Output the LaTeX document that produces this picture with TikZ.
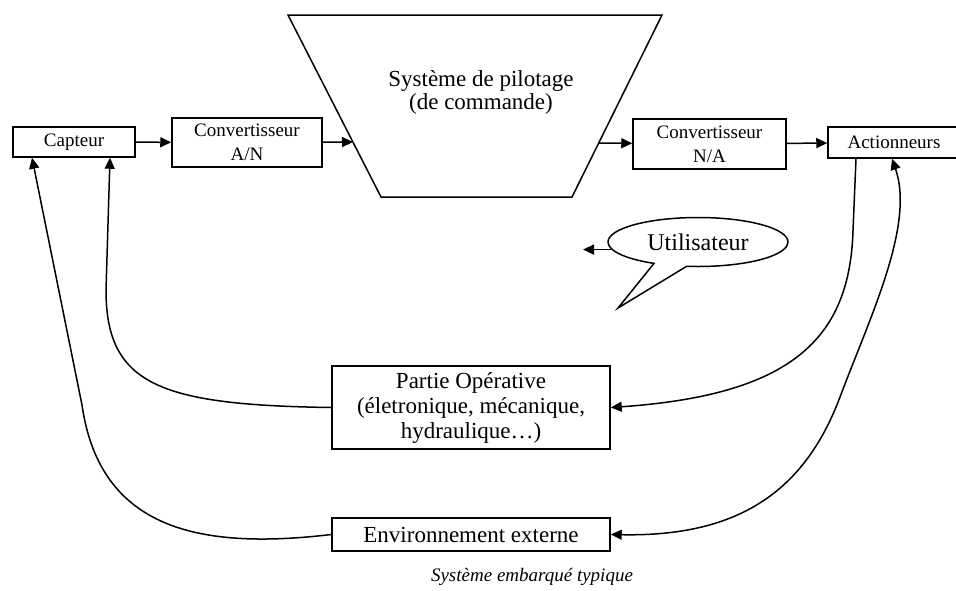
\documentclass[tikz,border=0pt]{standalone}
\usepackage{fontspec}
\setmainfont{Liberation Serif}
\usetikzlibrary{positioning, arrows.meta, shapes.callouts}

\begin{document}
\begin{tikzpicture}[x=0.5pt, y=-0.5pt, line width=0.75pt]
        \tikzset{
            >={Triangle[length=5.5pt, width=5pt]}, % small filled arrow heads
            block/.style={draw, align=center, inner sep=2pt, font=\fontsize{11.5}{12.5}\selectfont}, % big boxes
            small block/.style={block, font=\fontsize{9.5}{12}\selectfont}, % boxes of the top chain
            }
        \useasboundingbox (0,0) rectangle (956,590);

        % top chain
        \node[small block, minimum width=61pt, minimum height=15pt] (capteur_block) at (74,142) {Capteur};
        \node[small block, minimum width=75pt, minimum height=24.5pt] (conv_an_block) at (247,142.5) {Convertisseur\\A/N};
        \node[small block, minimum width=76.5pt, minimum height=25pt] (conv_na_block) at (709.5,144) {Convertisseur\\N/A};
        \node[small block, minimum width=66pt, minimum height=15.5pt] (act_block) at (894,142.5) {Actionneurs};

        % control system
        \coordinate (pilot_tl) at (288,15);
        \coordinate (pilot_tr) at (662,15);
        \coordinate (pilot_br) at (572,197);
        \coordinate (pilot_bl) at (381,197);
        \coordinate (pilot_in) at (353,142);
        \coordinate (pilot_out) at (599,143);
        \draw (pilot_tl) -- (pilot_tr) -- (pilot_br) -- (pilot_bl) -- cycle;
        \node[align=center, font=\fontsize{11.5}{11.5}\selectfont] (pilot_text) at (481,92) {Système de pilotage\\(de commande)};

        % user
        \coordinate (user_tip) at (618,308);
        \coordinate (user_end) at (583,249);
        \node[ellipse callout, draw, callout absolute pointer=(user_tip), callout pointer arc=22, inner sep=1pt,
              minimum width=90pt, minimum height=24.5pt, font=\fontsize{12}{14}\selectfont] (user_bubble) at (698,242) {Utilisateur};

        % process and environment
        \node[block, minimum width=139pt, minimum height=41.5pt] (po_block) at (471,407.5) {Partie Opérative\\(életronique, mécanique,\\hydraulique\ldots)};
        \node[block, minimum width=139pt, minimum height=16.5pt, below of=po_block, node distance=63.5pt] (env_block) {Environnement externe};
        \node[font=\itshape\fontsize{9.5}{11}\selectfont] (caption_text) at (532,577) {Système embarqué typique};

        % top chain paths
        \draw[->] (capteur_block) -- (conv_an_block);
        \draw[->] (conv_an_block) -- (pilot_in);
        \draw[->] (pilot_out) -- (conv_na_block);
        \draw[->] (conv_na_block) -- (act_block);
        \draw[->] (user_bubble.185) -- (user_bubble.185 -| user_end);

        % feedback paths
        \draw[->] (po_block.west) .. controls (160,405) and (106,385) .. (106,290) -- ([xshift=18pt]capteur_block.south);
        \draw[->] (env_block.west) .. controls (200,550) and (100,530) .. (82,405) -- ([xshift=-21pt]capteur_block.south);
        \draw[->] ([xshift=-19pt]act_block.south) -- (853,230) .. controls (850,340) and (790,395) .. (po_block.east);
        \draw[<->] (env_block.east) .. controls (740,537) and (805,490) .. (840,397) .. controls (870,317) and (915,225) .. ([xshift=-1pt]act_block.south);
\end{tikzpicture}
\end{document}
